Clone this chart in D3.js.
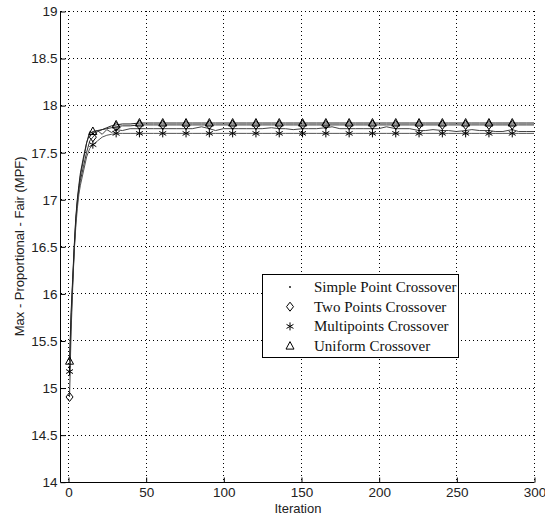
<!DOCTYPE html>
<html>
<head>
<meta charset="utf-8">
<script src="https://cdn.jsdelivr.net/npm/d3@7"></script>
<style>
body{margin:0;background:#fff;}
svg{display:block;}
</style>
</head>
<body>
<script>
// ---------- data ----------
const iterations = [1,2,3,4,5,6,7,8,10,12,14,16,19,22,25,28,31,35,40,46,50,55,61,65,70,76,80,86,91,95,100,106,110,115,121,125,131,136,140,145,151,155,160,166,170,175,181,185,190,196,200,205,211,215,220,226,230,235,241,245,250,256,260,265,271,275,280,286,290,295,300];

const simplePoint = [15.22,15.75,16.12,16.48,16.78,16.98,17.12,17.25,17.42,17.60,17.72,17.70,17.73,17.69,17.74,17.71,17.74,17.73,17.75,17.75,17.75,17.75,17.75,17.75,17.75,17.75,17.75,17.77,17.75,17.73,17.75,17.75,17.75,17.75,17.75,17.75,17.76,17.75,17.75,17.74,17.75,17.75,17.75,17.76,17.77,17.75,17.75,17.75,17.75,17.75,17.75,17.77,17.75,17.75,17.75,17.73,17.73,17.74,17.73,17.73,17.72,17.73,17.74,17.73,17.73,17.72,17.72,17.74,17.72,17.72,17.72];

const twoPoints = [14.90,15.60,16.05,16.45,16.75,16.95,17.10,17.20,17.35,17.50,17.62,17.66,17.72,17.74,17.75,17.76,17.77,17.78,17.78,17.79,17.79,17.79,17.79,17.79,17.79,17.79,17.79,17.79,17.79,17.79,17.79,17.79,17.79,17.79,17.79,17.79,17.79,17.79,17.79,17.79,17.79,17.79,17.79,17.79,17.79,17.79,17.79,17.79,17.79,17.79,17.79,17.79,17.79,17.79,17.79,17.79,17.79,17.79,17.79,17.79,17.79,17.79,17.79,17.79,17.79,17.79,17.79,17.79,17.79,17.79,17.79];

const multipoints = [15.17,15.70,16.10,16.45,16.70,16.90,17.05,17.15,17.30,17.45,17.54,17.58,17.62,17.66,17.68,17.69,17.70,17.70,17.70,17.70,17.70,17.70,17.70,17.70,17.70,17.70,17.70,17.70,17.70,17.70,17.70,17.70,17.70,17.70,17.70,17.70,17.70,17.70,17.70,17.70,17.70,17.70,17.70,17.70,17.70,17.70,17.70,17.70,17.70,17.70,17.70,17.70,17.70,17.70,17.70,17.70,17.70,17.70,17.70,17.70,17.70,17.70,17.70,17.70,17.70,17.70,17.70,17.70,17.70,17.70,17.70];

const uniform = [15.28,15.80,16.15,16.50,16.80,17.00,17.15,17.28,17.45,17.60,17.70,17.72,17.73,17.74,17.76,17.78,17.79,17.80,17.80,17.81,17.81,17.81,17.81,17.81,17.81,17.81,17.81,17.81,17.81,17.81,17.81,17.81,17.81,17.81,17.81,17.81,17.81,17.81,17.81,17.81,17.81,17.81,17.81,17.81,17.81,17.81,17.81,17.81,17.81,17.81,17.81,17.81,17.81,17.81,17.81,17.81,17.81,17.81,17.81,17.81,17.81,17.81,17.81,17.81,17.81,17.81,17.81,17.81,17.81,17.81,17.81];

const markerIterations = [1,16,31,46,61,76,91,106,121,136,151,166,181,196,211,226,241,256,271,286];

const seriesNames = ["Simple Point Crossover","Two Points Crossover","Multipoints Crossover","Uniform Crossover"];
const xTicks = [0,50,100,150,200,250,300];
const yTicks = [14,14.5,15,15.5,16,16.5,17,17.5,18,18.5,19];
const xLabel = "Iteration";
const yLabel = "Max - Proportional - Fair (MPF)";

// ---------- layout ----------
const W = 545, H = 518;
const svg = d3.select("body").append("svg").attr("width", W).attr("height", H);

const x = d3.scaleLinear().domain([-4.5, 300]).range([61, 534]);
const y = d3.scaleLinear().domain([14, 19]).range([481.7, 11]);

const series = [
  {name: seriesNames[0], values: simplePoint, marker: "dot", color: "#444"},
  {name: seriesNames[1], values: twoPoints, marker: "diamond", color: "#333"},
  {name: seriesNames[2], values: multipoints, marker: "star", color: "#555"},
  {name: seriesNames[3], values: uniform, marker: "triangle", color: "#222"}
];

// grid
const grid = svg.append("g").attr("stroke", "#000").attr("stroke-width", 1).attr("stroke-dasharray", "1,3");
grid.selectAll("line.v").data(xTicks).join("line")
  .attr("x1", d => Math.round(x(d)) + 0.5).attr("x2", d => Math.round(x(d)) + 0.5)
  .attr("y1", y(19)).attr("y2", y(14));
grid.selectAll("line.h").data(yTicks.filter(d => d > 14)).join("line").attr("class","h")
  .attr("x1", x(-4.5)).attr("x2", x(300))
  .attr("y1", d => Math.round(y(d)) + 0.5).attr("y2", d => Math.round(y(d)) + 0.5);

// lines
const line = d3.line().x((d) => x(d[0])).y(d => y(d[1]));
series.forEach(s => {
  const pts = iterations.map((it, i) => [it, s.values[i]]);
  svg.append("path").attr("d", line(pts)).attr("fill", "none")
    .attr("stroke", s.color).attr("stroke-width", 1);
});

// marker drawing
function drawMarker(g, type, cx, cy) {
  if (type === "dot") {
    g.append("circle").attr("cx", cx).attr("cy", cy).attr("r", 0.9).attr("fill", "#000");
  } else if (type === "diamond") {
    g.append("path").attr("d", `M${cx},${cy-4.5}L${cx+3.5},${cy}L${cx},${cy+4.5}L${cx-3.5},${cy}Z`)
      .attr("fill", "none").attr("stroke", "#000").attr("stroke-width", 1);
  } else if (type === "triangle") {
    g.append("path").attr("d", `M${cx},${cy-4.5}L${cx+4},${cy+3}L${cx-4},${cy+3}Z`)
      .attr("fill", "none").attr("stroke", "#000").attr("stroke-width", 1);
  } else if (type === "star") {
    const r = 4;
    const p = [];
    for (let k = 0; k < 3; k++) {
      const a = Math.PI / 2 + k * Math.PI / 3;
      p.push(`M${cx + r*Math.cos(a)},${cy + r*Math.sin(a)}L${cx - r*Math.cos(a)},${cy - r*Math.sin(a)}`);
    }
    g.append("path").attr("d", p.join("")).attr("fill", "none").attr("stroke", "#000").attr("stroke-width", 1);
  }
}

const mg = svg.append("g");
series.forEach(s => {
  markerIterations.forEach(it => {
    const i = iterations.indexOf(it);
    drawMarker(mg, s.marker, x(it), y(s.values[i]));
  });
});

// axes
const axisG = svg.append("g");
axisG.append("line").attr("x1", 60.5).attr("x2", 60.5).attr("y1", y(19)).attr("y2", y(14) + 0.5).attr("stroke", "#000");
axisG.append("line").attr("x1", 60.5).attr("x2", x(300) + 0.5).attr("y1", Math.round(y(14)) + 0.5).attr("y2", Math.round(y(14)) + 0.5).attr("stroke", "#000");

const xAxis = d3.axisBottom(x).tickValues(xTicks).tickSize(-5).tickPadding(5).tickFormat(d3.format("d"));
const yAxis = d3.axisLeft(y).tickValues(yTicks).tickSize(-5).tickPadding(3).tickFormat(d => String(d));

const gx = svg.append("g").attr("transform", `translate(0.5,${Math.round(y(14)) + 0.5})`).call(xAxis);
const gy = svg.append("g").attr("transform", `translate(60.5,0.5)`).call(yAxis);
[gx, gy].forEach(g => {
  g.select(".domain").remove();
  g.selectAll(".tick line").attr("stroke", "#000");
  g.selectAll(".tick text").attr("fill", "#222").style("font-family", "Liberation Sans, Arial, sans-serif").style("font-size", "13.5px");
});

// labels
svg.append("text").attr("x", 298).attr("y", 513).attr("text-anchor", "middle")
  .style("font-family", "Liberation Sans, Arial, sans-serif").style("font-size", "13px").attr("fill", "#222")
  .text(xLabel);
svg.append("text").attr("transform", `translate(24,${(y(19)+y(14))/2}) rotate(-90)`).attr("text-anchor", "middle")
  .style("font-family", "Liberation Sans, Arial, sans-serif").style("font-size", "13px").attr("fill", "#222")
  .text(yLabel);

// legend
const lg = svg.append("g");
lg.append("rect").attr("x", 262.5).attr("y", 274.5).attr("width", 196).attr("height", 83)
  .attr("fill", "#fff").attr("stroke", "#000").attr("stroke-width", 1);
series.forEach((s, i) => {
  const cy = 287 + i * 19.7;
  drawMarker(lg, s.marker, 290, cy);
  lg.append("text").attr("x", 314).attr("y", cy + 5)
    .style("font-family", "Liberation Serif, Times New Roman, serif").style("font-size", "15px").attr("fill", "#111")
    .text(s.name);
});
</script>
</body>
</html>
